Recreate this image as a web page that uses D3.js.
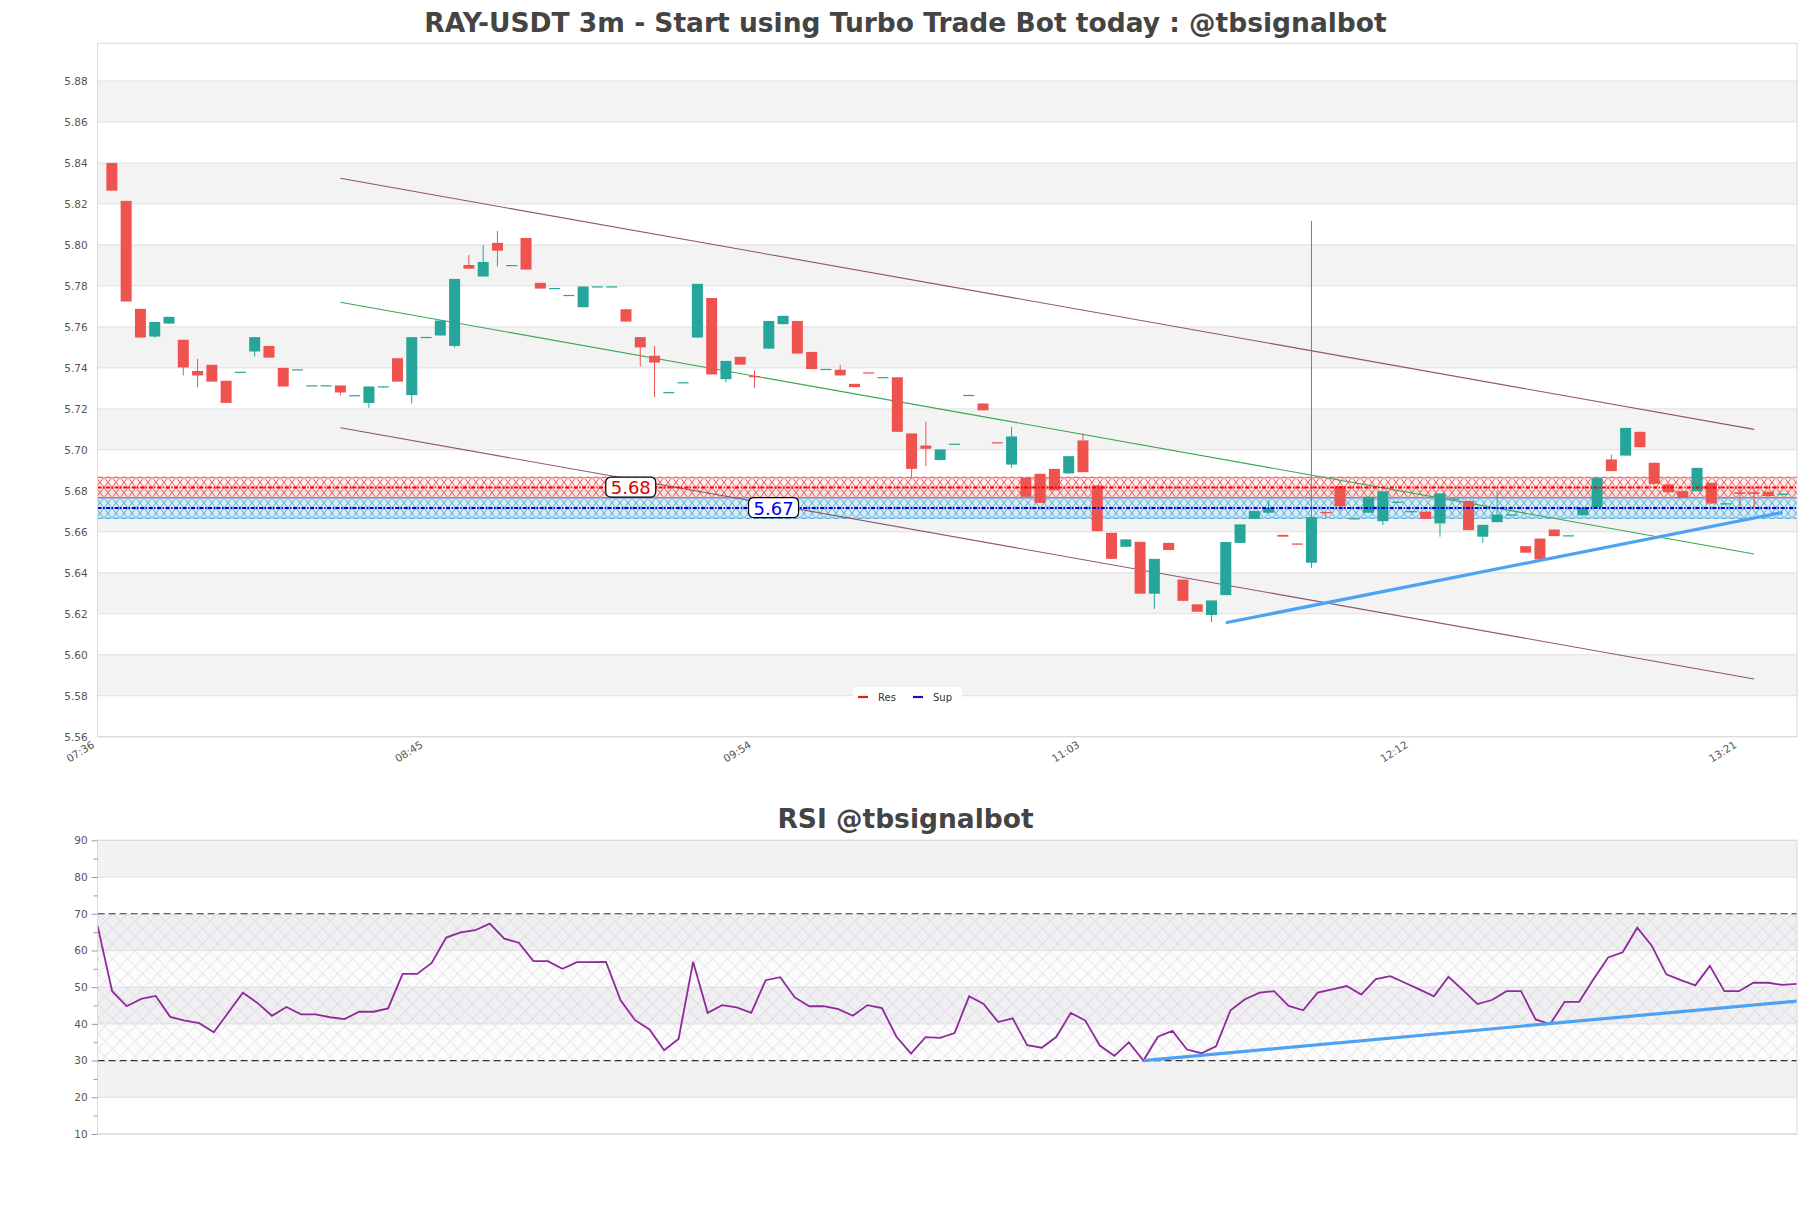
<!DOCTYPE html>
<html>
<head>
<meta charset="utf-8">
<script src="https://cdn.jsdelivr.net/npm/d3@7"></script>
<style>
  body { margin: 0; background: #fff; }
  svg text { font-family: "DejaVu Sans", sans-serif; }
</style>
</head>
<body>
<svg id="chart" width="1811" height="1208"></svg>
<script>
// ---- data ----
var startTime = "07:36";      // left edge of both panels
var firstCandle = "07:39";    // 3m bars
var endTime = "13:33";
var rsiEnd = "13:27";

var opens = [5.840,5.8215,5.7688,5.7553,5.7616,5.7537,5.7385,5.7415,5.7337,5.7379,
  5.748,5.7507,5.740,5.7391,5.7313,5.7313,5.7314,5.7265,5.7229,5.7308,
  5.7447,5.7267,5.7549,5.7558,5.7507,5.7902,5.7846,5.801,5.790,5.8034,
  5.7815,5.7788,5.7754,5.7696,5.7796,5.7796,5.7686,5.755,5.7459,5.728,
  5.7328,5.7548,5.7741,5.7345,5.7454,5.7360,5.7494,5.7613,5.7629,5.7478,
  5.7393,5.7391,5.7322,5.7378,5.7353,5.7354,5.708,5.7021,5.695,5.7028,
  5.7266,5.7226,5.7037,5.6928,5.6863,5.6883,5.6907,5.6885,5.7046,5.6826,
  5.6595,5.6527,5.6551,5.6298,5.6546,5.6367,5.6246,5.6194,5.6291,5.6546,
  5.6663,5.6693,5.6585,5.6543,5.6449,5.6697,5.6823,5.6664,5.6693,5.6652,
  5.6745,5.6699,5.6698,5.6641,5.676,5.6751,5.6576,5.6647,5.6683,5.653,
  5.6567,5.6611,5.6581,5.6681,5.672,5.6953,5.6972,5.7088,5.6937,5.6831,
  5.6798,5.6798,5.6839,5.6737,5.6793,5.6793,5.6795,5.6784];

var closes = [5.8265,5.7724,5.7548,5.7624,5.7649,5.7402,5.7363,5.7333,5.7229,5.7381,
  5.755,5.745,5.7309,5.7393,5.7315,5.7315,5.728,5.7267,5.7309,5.731,
  5.7333,5.755,5.7551,5.7631,5.7834,5.7884,5.7917,5.7972,5.7902,5.788,
  5.7787,5.779,5.7756,5.7797,5.7798,5.7798,5.7626,5.750,5.7426,5.7282,
  5.733,5.781,5.7368,5.7434,5.7416,5.7356,5.7629,5.7654,5.747,5.7394,
  5.7395,5.7363,5.7306,5.7376,5.7355,5.7088,5.6907,5.7005,5.7002,5.703,
  5.7268,5.7193,5.7035,5.7065,5.6771,5.6741,5.6803,5.6969,5.6891,5.6603,
  5.6468,5.6563,5.6298,5.6468,5.6511,5.6263,5.621,5.6265,5.655,5.6636,
  5.6701,5.6717,5.6576,5.6537,5.6672,5.6695,5.6725,5.6666,5.6771,5.6797,
  5.6747,5.6701,5.6663,5.6787,5.6762,5.6608,5.6634,5.6684,5.6685,5.6498,
  5.6465,5.6579,5.6583,5.6717,5.6862,5.6896,5.7107,5.7013,5.6834,5.6793,
  5.6766,5.6912,5.6738,5.6739,5.6785,5.6785,5.6774,5.6786];

// wicks that stick out of the body: [bar number (1 = first bar), price]
var wickHighs = [[7,5.7444],[26,5.7951],[27,5.800],[28,5.8068],[39,5.7507],[46,5.7387],
  [52,5.7415],[58,5.7137],[64,5.7112],[69,5.708],[82,5.6754],[85,5.8117],[98,5.6798],
  [106,5.6977],[115,5.6823],[116,5.6815]];
var wickLows = [[4,5.7548],[6,5.7363],[7,5.7305],[11,5.7455],[17,5.7265],[19,5.7205],
  [22,5.7226],[25,5.7499],[28,5.7894],[38,5.7407],[39,5.7257],[44,5.7329],[46,5.7301],
  [57,5.6859],[58,5.692],[64,5.6912],[74,5.6224],[78,5.6159],[85,5.6424],[86,5.6668],
  [87,5.6701],[90,5.6633],[94,5.6576],[97,5.6546],[115,5.6709],[116,5.6718]];

var rsiValues = [66.7,48.9,44.8,46.8,47.6,41.9,40.9,40.2,37.7,43.1,
  48.5,45.7,42.2,44.6,42.6,42.6,41.8,41.3,43.3,43.3,
  44.2,53.6,53.6,56.6,63.5,64.9,65.5,67.3,63.2,62.1,
  57.1,57.1,55.0,56.8,56.8,56.9,46.5,41.0,38.5,32.8,
  35.9,56.9,43.0,45.1,44.5,43.0,51.9,52.7,47.2,44.8,
  44.8,44.0,42.2,45.1,44.3,36.5,31.9,36.4,36.2,37.5,
  47.5,45.4,40.5,41.5,34.2,33.5,36.4,43.0,40.9,34.1,
  31.3,35.0,30.0,36.5,38.1,33.0,32.0,33.9,43.7,46.7,
  48.5,48.9,44.9,43.7,48.5,49.4,50.3,48.0,52.2,53.0,
  51.2,49.4,47.5,52.8,49.2,45.4,46.5,48.9,48.9,41.2,
  39.9,46.0,46.0,52.2,58.1,59.5,66.2,61.3,53.5,51.9,
  50.5,55.8,48.9,48.9,51.2,51.2,50.6,50.9];

// trend lines [time, price]
var channelUpper = [["08:27",5.8325],["13:24",5.710]];
var channelLower = [["08:27",5.7108],["13:24",5.5882]];
var midLine = [["08:27",5.772],["13:24",5.6492]];
var supportTrend = [["11:33",5.6156],["13:30",5.6695]];
var rsiTrend = [["11:12",30.0],["13:27",46.2]];

// resistance / support zones
var levelNames = ["Res", "Sup"];
var levelPrices = [5.6816, 5.6716];
var levelHalf = 0.005;
var levelLabels = ["5.68", "5.67"];
var levelLabelAt = ["09:28", "09:58"];

var yTicks = [5.56,5.58,5.60,5.62,5.64,5.66,5.68,5.70,5.72,5.74,5.76,5.78,5.80,5.82,5.84,5.86,5.88];
var xTickLabels = ["07:36","08:45","09:54","11:03","12:12","13:21"];
var rsiTicks = [10,20,30,40,50,60,70,80,90];
var rsiMinor = [15,25,35,45,55,65,75,85];
var rsiBounds = [30, 70];

var titleMain = "RAY-USDT 3m - Start using Turbo Trade Bot today : @tbsignalbot";
var titleRsi = "RSI @tbsignalbot";

// ---- layout ----
var W = 1811;
var left = 97.6, right = 1797;
var main = {top: 43.3, bottom: 736.7};
var lower = {top: 840.3, bottom: 1134};
var upColor = "#26a69a", downColor = "#ef5350";

var parseT = d3.timeParse("%H:%M");
var t0 = parseT(firstCandle);

var svg = d3.select("#chart");
var defs = svg.append("defs");

var x = d3.scaleTime().domain([parseT(startTime), parseT(endTime)]).range([left, right]);
var y = d3.scaleLinear().domain([5.56, 5.8984]).range([main.bottom, main.top]);
var xr = d3.scaleTime().domain([parseT(startTime), parseT(rsiEnd)]).range([left, right]);
var yr = d3.scaleLinear().domain([10, 90]).range([lower.bottom, lower.top]);

var candles = opens.map(function(o, i) {
  var c = closes[i];
  return {t: d3.timeMinute.offset(t0, 3 * i), o: o, c: c,
          h: Math.max(o, c), l: Math.min(o, c)};
});
wickHighs.forEach(function(w) { candles[w[0] - 1].h = w[1]; });
wickLows.forEach(function(w) { candles[w[0] - 1].l = w[1]; });

// titles
svg.append("text").attr("x", W / 2).attr("y", 32).attr("text-anchor", "middle")
  .style("font-size", "26.5px").style("font-weight", "bold").attr("fill", "#444")
  .text(titleMain);
svg.append("text").attr("x", W / 2).attr("y", 828).attr("text-anchor", "middle")
  .style("font-size", "26.5px").style("font-weight", "bold").attr("fill", "#444")
  .text(titleRsi);

// ---- main panel ----
var gMain = svg.append("g");

// alternating bands
d3.pairs(yTicks).forEach(function(p, i) {
  if (i % 2 === 1) {
    gMain.append("rect").attr("x", left).attr("width", right - left)
      .attr("y", y(p[1])).attr("height", y(p[0]) - y(p[1])).attr("fill", "#f3f3f3");
  }
});
gMain.selectAll(".grid").data(yTicks).enter().append("line")
  .attr("x1", left).attr("x2", right)
  .attr("y1", function(d) { return y(d); }).attr("y2", function(d) { return y(d); })
  .attr("stroke", "#e0e0e0").attr("stroke-width", 1);

// zone patterns
var zoneStyle = [
  {hatch: "#e8393b", fill: "rgba(255,90,90,0.10)", edge: "#e23a3a", line: "#ff0000", label: "#e00000"},
  {hatch: "#2b9fd8", fill: "rgba(90,190,240,0.14)", edge: "#2a9ad6", line: "#0000dd", label: "#0000ee"}
];
levelPrices.forEach(function(p, i) {
  var top = y(p + levelHalf), bot = y(p - levelHalf), h = (bot - top) / 2;
  var pat = defs.append("pattern").attr("id", "zone" + i).attr("patternUnits", "userSpaceOnUse")
    .attr("x", 0).attr("y", top).attr("width", 8).attr("height", h);
  pat.append("path").attr("d", "M0,0L8," + h + "M8,0L0," + h + "M0," + h + "L2," + h + "M6,0L8,0")
    .attr("stroke", zoneStyle[i].hatch).attr("stroke-width", 0.8).attr("fill", "none");
  gMain.append("rect").attr("x", left).attr("width", right - left).attr("y", top).attr("height", bot - top)
    .attr("fill", zoneStyle[i].fill);
  gMain.append("rect").attr("x", left).attr("width", right - left).attr("y", top).attr("height", bot - top)
    .attr("fill", "url(#zone" + i + ")");
  [top, bot].forEach(function(yy) {
    gMain.append("line").attr("x1", left).attr("x2", right).attr("y1", yy).attr("y2", yy)
      .attr("stroke", zoneStyle[i].edge).attr("stroke-width", 1).attr("stroke-dasharray", "5,3");
  });
});

// trend lines
var line = d3.line().x(function(d) { return x(parseT(d[0])); }).y(function(d) { return y(d[1]); });
[channelUpper, channelLower].forEach(function(l) {
  gMain.append("path").attr("d", line(l)).attr("stroke", "#7d3a58").attr("stroke-width", 1.1)
    .attr("fill", "none").attr("opacity", 0.85);
});
gMain.append("path").attr("d", line(midLine)).attr("stroke", "#3aa655").attr("stroke-width", 1.1)
  .attr("fill", "none");

// candles
var gc = gMain.selectAll(".candle").data(candles).enter().append("g");
gc.append("line")
  .attr("x1", function(d) { return x(d.t); }).attr("x2", function(d) { return x(d.t); })
  .attr("y1", function(d) { return y(d.h); }).attr("y2", function(d) { return y(d.l); })
  .attr("stroke", function(d) { return d.c >= d.o ? upColor : downColor; }).attr("stroke-width", 1);
gc.append("rect")
  .attr("x", function(d) { return x(d.t) - 5.5; }).attr("width", 11)
  .attr("y", function(d) { return y(Math.max(d.o, d.c)); })
  .attr("height", function(d) { return Math.max(1.2, Math.abs(y(d.o) - y(d.c))); })
  .attr("fill", function(d) { return d.c >= d.o ? upColor : downColor; });

// level lines
levelPrices.forEach(function(p, i) {
  gMain.append("line").attr("x1", left).attr("x2", right).attr("y1", y(p)).attr("y2", y(p))
    .attr("stroke", zoneStyle[i].line).attr("stroke-width", 2).attr("stroke-dasharray", "4,1.5,1.5,1.5");
});

gMain.append("path").attr("d", line(supportTrend)).attr("stroke", "#4da3f2").attr("stroke-width", 3.2)
  .attr("fill", "none").attr("stroke-linecap", "butt");

// level labels
levelPrices.forEach(function(p, i) {
  var lx = x(parseT(levelLabelAt[i])), ly = y(p);
  var g = gMain.append("g");
  g.append("rect").attr("x", lx - 25).attr("y", ly - 10.5).attr("width", 50).attr("height", 20)
    .attr("rx", 5).attr("fill", "#fff").attr("stroke", "#000").attr("stroke-width", 1.2);
  g.append("text").attr("x", lx).attr("y", ly + 6.5).attr("text-anchor", "middle")
    .style("font-size", "18px")
    .attr("fill", zoneStyle[i].label).text(levelLabels[i]);
});

// border
gMain.append("rect").attr("x", left).attr("y", main.top).attr("width", right - left)
  .attr("height", main.bottom - main.top).attr("fill", "none").attr("stroke", "#d9d9d9");

// axes
var yAxis = gMain.append("g").attr("transform", "translate(" + left + ",0)")
  .call(d3.axisLeft(y).tickValues(yTicks).tickFormat(d3.format(".2f")).tickSize(0).tickPadding(10));
yAxis.select(".domain").remove();
yAxis.selectAll("text").attr("fill", "#555").style("font-size", "10.5px");

var xAxis = gMain.append("g").attr("transform", "translate(0," + main.bottom + ")")
  .call(d3.axisBottom(x).tickValues(xTickLabels.map(parseT)).tickFormat(d3.timeFormat("%H:%M")).tickSize(0));
xAxis.select(".domain").remove();
xAxis.selectAll("text").attr("fill", "#555").style("font-size", "10.5px")
  .attr("text-anchor", "end").attr("dy", null).attr("y", 0)
  .attr("transform", "translate(-3,10) rotate(-32)");

// legend
var lg = gMain.append("g").attr("transform", "translate(853,687)");
lg.append("rect").attr("width", 109).attr("height", 18).attr("rx", 3).attr("fill", "#fff");
var legendColors = ["#d42020", "#1414b4"];
levelNames.forEach(function(n, i) {
  lg.append("line").attr("x1", 5 + i * 55).attr("x2", 15 + i * 55).attr("y1", 10).attr("y2", 10)
    .attr("stroke", legendColors[i]).attr("stroke-width", 2.2);
  lg.append("text").attr("x", 25 + i * 55).attr("y", 13.5).style("font-size", "10px")
    .attr("fill", "#333").text(n);
});

// ---- RSI panel ----
var gR = svg.append("g");
d3.pairs(rsiTicks).forEach(function(p, i) {
  if (i % 2 === 1) {
    gR.append("rect").attr("x", left).attr("width", right - left)
      .attr("y", yr(p[1])).attr("height", yr(p[0]) - yr(p[1])).attr("fill", "#f2f2f3");
  }
});
var rp = defs.append("pattern").attr("id", "rsiHatch").attr("patternUnits", "userSpaceOnUse")
  .attr("x", left).attr("y", yr(70)).attr("width", 15).attr("height", 15);
rp.append("path").attr("d", "M0,0L15,15M15,0L0,15").attr("stroke", "#cbc3d1")
  .attr("stroke-width", 0.7).attr("fill", "none");
gR.append("rect").attr("x", left).attr("width", right - left)
  .attr("y", yr(rsiBounds[1])).attr("height", yr(rsiBounds[0]) - yr(rsiBounds[1]))
  .attr("fill", "rgba(150,110,170,0.02)");
gR.append("rect").attr("x", left).attr("width", right - left)
  .attr("y", yr(rsiBounds[1])).attr("height", yr(rsiBounds[0]) - yr(rsiBounds[1]))
  .attr("fill", "url(#rsiHatch)").attr("opacity", 0.8);

gR.selectAll(".rgrid").data(rsiTicks.filter(function(d) { return rsiBounds.indexOf(d) < 0; }))
  .enter().append("line")
  .attr("x1", left).attr("x2", right)
  .attr("y1", function(d) { return yr(d); }).attr("y2", function(d) { return yr(d); })
  .attr("stroke", "#dedede");
rsiBounds.forEach(function(b) {
  gR.append("line").attr("x1", left).attr("x2", right).attr("y1", yr(b)).attr("y2", yr(b))
    .attr("stroke", "#333").attr("stroke-width", 1.2).attr("stroke-dasharray", "7,4");
});

var rsiLine = d3.line()
  .x(function(d, i) { return xr(d3.timeMinute.offset(parseT(startTime), 3 * i)); })
  .y(function(d) { return yr(d); });
gR.append("path").attr("d", rsiLine(rsiValues)).attr("fill", "none")
  .attr("stroke", "#8e2a9c").attr("stroke-width", 1.8);

var rline = d3.line().x(function(d) { return xr(parseT(d[0])); }).y(function(d) { return yr(d[1]); });
gR.append("path").attr("d", rline(rsiTrend)).attr("stroke", "#4da3f2").attr("stroke-width", 3.2)
  .attr("fill", "none");

gR.append("rect").attr("x", left).attr("y", lower.top).attr("width", right - left)
  .attr("height", lower.bottom - lower.top).attr("fill", "none").attr("stroke", "#d9d9d9");

var ra = gR.append("g").attr("transform", "translate(" + left + ",0)")
  .call(d3.axisLeft(yr).tickValues(rsiTicks).tickSize(6).tickPadding(4));
ra.select(".domain").remove();
ra.selectAll("line").attr("stroke", "#999");
ra.selectAll("text").attr("fill", "#555").style("font-size", "10.5px");
var rm = gR.append("g").attr("transform", "translate(" + left + ",0)")
  .call(d3.axisLeft(yr).tickValues(rsiMinor).tickSize(4).tickFormat(""));
rm.select(".domain").remove();
rm.selectAll("line").attr("stroke", "#999");
</script>
</body>
</html>
